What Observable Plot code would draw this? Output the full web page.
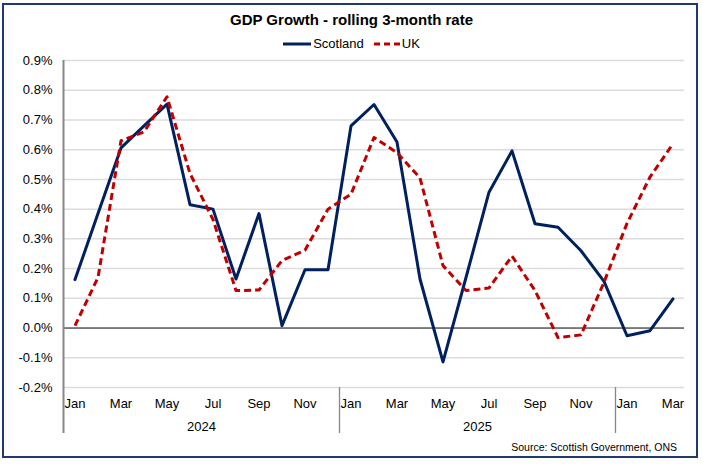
<!DOCTYPE html>
<html>
<head>
<meta charset="utf-8">
<script src="https://cdn.jsdelivr.net/npm/d3@7"></script>
<script src="https://cdn.jsdelivr.net/npm/@observablehq/plot@0.6"></script>
<style>
  body { margin: 0; background: #fff; }
  #chart { position: relative; width: 703px; height: 464px; font-family: "Liberation Sans", Arial, sans-serif; color: #000; }
  #plot { position: absolute; left: 0; top: 0; }
  #frame { position: absolute; left: 2px; top: 3px; width: 696px; height: 455px; border: 2px solid #1f3a6e; box-sizing: border-box; pointer-events: none; }
  #title { position: absolute; left: 0; top: 11px; width: 703px; text-align: center; font-weight: bold; font-size: 15px; line-height: 18px; }
  #legend { position: absolute; left: 0; top: 36px; width: 703px; display: flex; justify-content: center; align-items: center; font-size: 13px; line-height: 16px; }
  #legend svg { display: block; margin-right: 2px; }
  #legend .item { display: flex; align-items: center; }
  #legend .item + .item { margin-left: 10px; }
  #source { position: absolute; right: 26px; top: 441px; font-size: 10.5px; line-height: 12px; }
</style>
</head>
<body>
<div id="chart">
  <div id="plot"></div>
  <div id="title">GDP Growth - rolling 3-month rate</div>
  <div id="legend"></div>
  <div id="source">Source: Scottish Government, ONS</div>
  <div id="frame"></div>
</div>
<script>
// Months from Jan 2024 to Mar 2026
const months = [
  "Jan","Feb","Mar","Apr","May","Jun","Jul","Aug","Sep","Oct","Nov","Dec",
  "Jan","Feb","Mar","Apr","May","Jun","Jul","Aug","Sep","Oct","Nov","Dec",
  "Jan","Feb","Mar"
];
const yearLabels = ["2024", "2025", ""];
const yearStarts = [0, 12, 24];

// Rolling 3-month GDP growth, %
const scotland = [
  0.163, 0.385, 0.606, 0.68, 0.753, 0.415, 0.40, 0.165, 0.385, 0.008, 0.196, 0.196,
  0.68, 0.752, 0.626, 0.165, -0.114, 0.17, 0.457, 0.596, 0.351, 0.339, 0.26, 0.157,
  -0.026, -0.009, 0.098
];
const uk = [
  0.008, 0.17, 0.63, 0.66, 0.778, 0.52, 0.365, 0.126, 0.128, 0.227, 0.262, 0.40,
  0.45, 0.641, 0.59, 0.505, 0.21, 0.126, 0.135, 0.242, 0.126, -0.032, -0.023, 0.154,
  0.352, 0.508, 0.62
];

const yTicks = [-0.2, -0.1, 0, 0.1, 0.2, 0.3, 0.4, 0.5, 0.6, 0.7, 0.8, 0.9];

const series = [
  { name: "Scotland", values: scotland, color: "#002060", dash: null },
  { name: "UK", values: uk, color: "#c00000", dash: "7,4" }
];

const monthTicks = months.map((m, i) => i).filter(i => i % 2 === 0);
const yearBoundaries = yearStarts.map(s => s - 0.5);
const points = series.flatMap(s => s.values.map((v, i) => ({ series: s.name, i, v })));

const chart = Plot.plot({
  width: 703,
  height: 464,
  marginTop: 60,
  marginBottom: 77,
  marginLeft: 63,
  marginRight: 19,
  x: { type: "linear", domain: [-0.5, months.length - 0.5], axis: null },
  y: { domain: [-0.2, 0.9], axis: null },
  style: { fontFamily: "'Liberation Sans', Arial, sans-serif", fontSize: "13px", color: "#000", background: "transparent" },
  marks: [
    Plot.ruleY(yTicks.filter(t => t !== 0), { stroke: "#dcdcdc", strokeWidth: 1.5 }),
    Plot.ruleY([0], { stroke: "#000", strokeWidth: 1 }),
    // vertical axis line, continuing down through the category labels
    Plot.ruleX(yearBoundaries.slice(0, 1), { stroke: "#878787", strokeWidth: 2, insetBottom: -46 }),
    // year group separators below the plot area
    Plot.ruleX(yearBoundaries.slice(1), { y1: -0.2, y2: -0.2, insetBottom: -46, stroke: "#878787", strokeWidth: 1.3 }),
    Plot.axisY({ ticks: yTicks, tickSize: 0, tickPadding: 11, tickFormat: d => d.toFixed(1) + "%", fontSize: 13, label: null }),
    Plot.axisX({ ticks: monthTicks, tickSize: 0, tickPadding: 11, tickFormat: i => months[i], fontSize: 13, label: null }),
    Plot.text(yearLabels, {
      x: (d, k) => yearStarts[k] + 5.5,
      text: d => d,
      frameAnchor: "bottom",
      lineAnchor: "middle",
      dy: 39,
      fontSize: 13
    }),
    ...series.map(s => Plot.line(points.filter(p => p.series === s.name), {
      x: "i",
      y: "v",
      stroke: s.color,
      strokeWidth: 3,
      strokeDasharray: s.dash,
      strokeLinecap: s.dash ? "butt" : "round",
      strokeLinejoin: "round"
    }))
  ]
});
document.getElementById("plot").appendChild(chart);

// legend
const legend = document.getElementById("legend");
series.forEach(s => {
  const item = document.createElement("div");
  item.className = "item";
  const w = s.dash ? 26 : 28;
  item.innerHTML = `<svg width="${w}" height="6"><line x1="0" y1="3" x2="${w}" y2="3" stroke="${s.color}" stroke-width="3" ${s.dash ? 'stroke-dasharray="6,4"' : ""}/></svg><span>${s.name}</span>`;
  legend.appendChild(item);
});
</script>
</body>
</html>
